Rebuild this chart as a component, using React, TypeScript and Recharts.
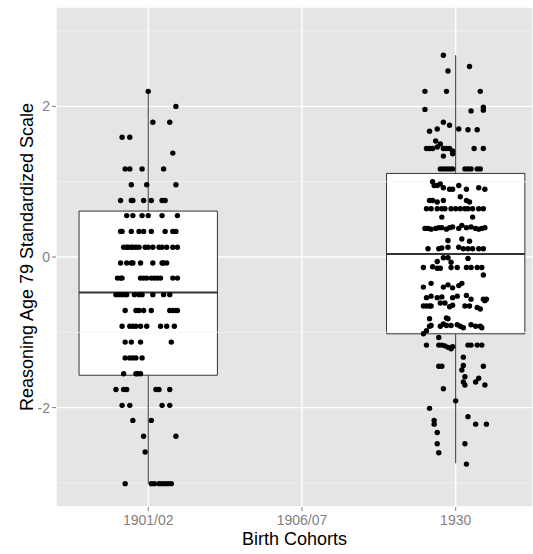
import {
  ScatterChart,
  Scatter,
  XAxis,
  YAxis,
  CartesianGrid,
  ReferenceArea,
  ReferenceLine,
  Label,
} from "recharts"

const cohorts = ["1901/02", "1906/07", "1930"]
const cohortTicks = [1, 2, 3]
const yTicks = [-2, 0, 2]
const yMinorTicks = [-3, -1, 1, 3]

// boxplot summaries, one entry per cohort that has data
const boxCohort = [1, 3]
const boxLower = [-3.01, -2.74]
const boxQ1 = [-1.57, -1.02]
const boxMedian = [-0.47, 0.04]
const boxQ3 = [0.61, 1.11]
const boxUpper = [2.2, 2.68]

// 1901/02: score rows, each with the horizontal jitter of its points
const cohort1Rows: [number, number[]][] = [
  [2.2, [0.0]],
  [2.0, [0.18]],
  [1.79, [0.03, 0.14]],
  [1.59, [-0.17, -0.12]],
  [1.38, [0.16]],
  [1.17, [-0.15, -0.12, -0.04, 0.1]],
  [0.96, [-0.11, -0.01, 0.18]],
  [0.75, [-0.18, -0.11, -0.1, -0.03, 0.02, 0.09, 0.11]],
  [0.55, [-0.14, -0.1, -0.04, 0.0, 0.09, 0.19]],
  [0.34, [-0.18, -0.17, -0.11, -0.06, -0.03, 0.02, 0.11, 0.16, 0.18]],
  [0.13, [-0.16, -0.14, -0.13, -0.11, -0.1, -0.08, -0.06, -0.02, 0.0, 0.03, 0.07, 0.09, 0.12, 0.16, 0.19]],
  [-0.08, [-0.18, -0.14, -0.11, -0.1, -0.05, 0.03, 0.09, 0.1, 0.12]],
  [-0.28, [-0.2, -0.18, -0.17, -0.05, -0.03, -0.01, 0.02, 0.04, 0.06, 0.08, 0.16, 0.19]],
  [-0.5, [-0.21, -0.19, -0.17, -0.15, -0.14, -0.09, -0.06, -0.04, 0.03, 0.1, 0.14]],
  [-0.71, [-0.15, -0.08, -0.06, -0.03, 0.02, 0.14, 0.16, 0.18, 0.19]],
  [-0.92, [-0.17, -0.12, -0.1, -0.08, -0.05, -0.01, 0.08, 0.12, 0.17]],
  [-1.13, [-0.15, -0.11, -0.05, 0.15]],
  [-1.34, [-0.15, -0.12, -0.1, -0.08, -0.04]],
  [-1.55, [-0.16, -0.08, -0.07, -0.05]],
  [-1.76, [-0.21, -0.16, -0.14, 0.05, 0.07, 0.14]],
  [-1.97, [-0.17, -0.12, 0.09, 0.14]],
  [-2.17, [-0.1, 0.02]],
  [-2.38, [-0.03, 0.18]],
  [-2.59, [-0.02]],
  [-3.01, [-0.15, 0.02, 0.04, 0.07, 0.09, 0.11, 0.13, 0.15]],
]

// 1930: [jitter, score]
const cohort3Points: [number, number][] = [
  [-0.08, 2.68], [0.09, 2.53], [-0.05, 2.47],
  [-0.2, 2.2], [-0.06, 2.2], [0.16, 2.2],
  [-0.2, 1.96], [0.1, 1.94], [0.18, 1.99], [0.18, 1.95],
  [-0.08, 1.79], [-0.04, 1.75], [-0.12, 1.7], [-0.17, 1.67], [0.02, 1.7], [0.08, 1.69], [0.14, 1.69],
  [-0.13, 1.54],
  [-0.19, 1.44], [-0.17, 1.44], [-0.15, 1.44], [-0.12, 1.46], [-0.1, 1.5], [-0.08, 1.44],
  [-0.06, 1.44], [-0.04, 1.44], [-0.02, 1.41], [0.12, 1.44], [0.18, 1.44],
  [-0.08, 1.34], [-0.02, 1.37],
  [-0.1, 1.17], [-0.08, 1.17], [-0.06, 1.17], [-0.04, 1.17], [-0.02, 1.17],
  [0.06, 1.17], [0.08, 1.17], [0.1, 1.17], [0.14, 1.17], [0.16, 1.17],
  [-0.15, 1.0], [-0.14, 0.95], [-0.12, 0.95], [-0.1, 0.97], [-0.08, 0.92], [-0.04, 0.9],
  [-0.02, 0.9], [0.02, 0.95], [0.07, 0.9], [0.15, 0.92], [0.19, 0.9],
  [-0.17, 0.75], [-0.15, 0.75], [-0.12, 0.73], [-0.08, 0.75], [0.03, 0.8], [0.07, 0.75], [0.09, 0.73],
  [-0.19, 0.64], [-0.16, 0.64], [-0.12, 0.64], [-0.09, 0.64], [-0.07, 0.64], [-0.03, 0.64], [0.0, 0.64],
  [0.03, 0.64], [0.06, 0.64], [0.08, 0.64], [0.11, 0.64], [0.15, 0.64], [0.18, 0.64],
  [-0.09, 0.53], [0.11, 0.53],
  [-0.2, 0.38], [-0.18, 0.38], [-0.16, 0.37], [-0.13, 0.38], [-0.11, 0.39], [-0.09, 0.39],
  [-0.06, 0.37], [-0.04, 0.39], [-0.02, 0.4], [0.02, 0.38], [0.04, 0.42], [0.07, 0.39],
  [0.1, 0.4], [0.13, 0.38], [0.15, 0.37], [0.17, 0.38], [0.19, 0.39],
  [-0.05, 0.22], [0.04, 0.24], [0.09, 0.21],
  [-0.18, 0.11], [-0.11, 0.11], [-0.09, 0.12], [-0.05, 0.13], [0.02, 0.13], [0.05, 0.11],
  [0.08, 0.11], [0.11, 0.11], [0.15, 0.11], [0.18, 0.11],
  [-0.08, -0.01], [-0.12, -0.06], [-0.05, -0.01], [-0.03, -0.07], [0.08, -0.02],
  [-0.21, -0.14], [-0.15, -0.13], [-0.12, -0.15], [-0.1, -0.15], [-0.03, -0.14], [0.01, -0.14],
  [0.07, -0.14], [0.1, -0.14], [0.14, -0.14], [0.17, -0.14],
  [0.18, -0.24],
  [-0.21, -0.4], [-0.16, -0.35], [-0.08, -0.4], [-0.05, -0.37], [-0.02, -0.41], [0.02, -0.38], [0.04, -0.35],
  [-0.19, -0.54], [-0.16, -0.52], [-0.12, -0.54], [-0.09, -0.53], [-0.02, -0.54], [0.01, -0.52],
  [0.07, -0.51], [0.1, -0.56], [0.18, -0.56], [0.2, -0.56],
  [-0.21, -0.65], [-0.19, -0.65], [-0.17, -0.65], [-0.16, -0.65], [-0.1, -0.61], [-0.07, -0.61],
  [-0.04, -0.66], [-0.02, -0.64], [0.06, -0.65], [0.09, -0.65], [0.14, -0.67], [0.16, -0.69], [0.19, -0.58],
  [-0.17, -0.82], [-0.06, -0.81], [-0.05, -0.82],
  [-0.17, -0.92], [-0.16, -0.91], [-0.1, -0.92], [-0.08, -0.89], [-0.06, -0.91], [-0.03, -0.91],
  [0.01, -0.9], [0.03, -0.92], [0.05, -0.94], [0.1, -0.9], [0.13, -0.92], [0.16, -0.92], [0.17, -0.94],
  [-0.21, -1.02], [-0.19, -0.98], [-0.11, -1.07],
  [-0.19, -1.17], [-0.11, -1.17], [-0.09, -1.17], [-0.07, -1.18], [-0.05, -1.2], [-0.03, -1.22],
  [-0.02, -1.19], [0.08, -1.17], [0.1, -1.17], [0.14, -1.17], [0.17, -1.17],
  [0.05, -1.33],
  [-0.11, -1.45], [-0.09, -1.45], [0.05, -1.44], [0.04, -1.5], [0.18, -1.45],
  [0.06, -1.59], [0.15, -1.61], [0.13, -1.66], [0.19, -1.7], [0.05, -1.66], [0.06, -1.7], [-0.08, -1.75],
  [0.0, -1.91], [-0.17, -2.01], [0.08, -2.12], [-0.14, -2.17], [-0.14, -2.22], [0.13, -2.22],
  [0.2, -2.22], [-0.12, -2.33], [-0.12, -2.48], [0.06, -2.48], [-0.11, -2.6], [0.07, -2.75],
]

const cohort1Data = cohort1Rows.flatMap(([score, jitter]) =>
  jitter.map((j) => ({ x: 1 + j, y: score }))
)
const cohort3Data = cohort3Points.map(([j, score]) => ({ x: 3 + j, y: score }))

const font = "'Liberation Sans', Arial, sans-serif"
const boxHalf = 0.45
const boxStroke = "#333333"

const Dot = (p: any) => <circle cx={p.cx} cy={p.cy} r={2.7} fill="#000000" />

export default function App() {
  return (
    <div style={{ position: "absolute", left: 0, top: 0, background: "#fff" }}>
      <ScatterChart width={533} height={554} margin={{ top: 7, right: 0, bottom: 0, left: 0 }}>
        <CartesianGrid fill="#E5E5E5" fillOpacity={1} stroke="#FFFFFF" strokeWidth={1.4} />
        {yMinorTicks.map((v) => (
          <ReferenceLine key={"m" + v} y={v} stroke="#F2F2F2" strokeWidth={0.8} />
        ))}
        <XAxis
          type="number"
          dataKey="x"
          domain={[0.4, 3.503]}
          allowDataOverflow
          ticks={cohortTicks}
          interval={0}
          tickFormatter={(v: number) => cohorts[v - 1]}
          height={47}
          axisLine={false}
          tickLine={{ stroke: "#7F7F7F" }}
          tickSize={4}
          tickMargin={4}
          tick={{ fill: "#7F7F7F", fontSize: 14, fontFamily: font }}
        >
          <Label
            value="Birth Cohorts"
            position="insideBottom"
            offset={9}
            fill="#000000"
            fontSize={18}
            fontFamily={font}
          />
        </XAxis>
        <YAxis
          type="number"
          dataKey="y"
          domain={[-3.32, 3.32]}
          allowDataOverflow
          ticks={yTicks}
          interval={0}
          width={56}
          axisLine={false}
          tickLine={{ stroke: "#7F7F7F" }}
          tickSize={4}
          tickMargin={2}
          tick={{ fill: "#7F7F7F", fontSize: 14, fontFamily: font }}
        >
          <Label
            content={(props: any) => {
              const vb = props.viewBox
              const cx = 27
              const cy = vb.y + vb.height / 2
              return (
                <text
                  x={cx}
                  y={cy}
                  transform={`rotate(-90 ${cx} ${cy})`}
                  textAnchor="middle"
                  dominantBaseline="central"
                  fill="#000000"
                  fontSize={18}
                  fontFamily={font}
                >
                  Reasoning Age 79 Standardized Scale
                </text>
              )
            }}
          />
        </YAxis>
        {boxCohort.map((c, i) => (
          <ReferenceLine
            key={"wu" + c}
            segment={[{ x: c, y: boxQ3[i] }, { x: c, y: boxUpper[i] }]}
            stroke={boxStroke}
            strokeWidth={1}
          />
        ))}
        {boxCohort.map((c, i) => (
          <ReferenceLine
            key={"wl" + c}
            segment={[{ x: c, y: boxLower[i] }, { x: c, y: boxQ1[i] }]}
            stroke={boxStroke}
            strokeWidth={1}
          />
        ))}
        {boxCohort.map((c, i) => (
          <ReferenceArea
            key={"b" + c}
            x1={c - boxHalf}
            x2={c + boxHalf}
            y1={boxQ1[i]}
            y2={boxQ3[i]}
            fill="#FFFFFF"
            fillOpacity={1}
            stroke={boxStroke}
            strokeWidth={1}
          />
        ))}
        {boxCohort.map((c, i) => (
          <ReferenceLine
            key={"md" + c}
            segment={[{ x: c - boxHalf, y: boxMedian[i] }, { x: c + boxHalf, y: boxMedian[i] }]}
            stroke={boxStroke}
            strokeWidth={2}
          />
        ))}
        <Scatter data={cohort1Data} shape={Dot} isAnimationActive={false} />
        <Scatter data={cohort3Data} shape={Dot} isAnimationActive={false} />
      </ScatterChart>
    </div>
  )
}
